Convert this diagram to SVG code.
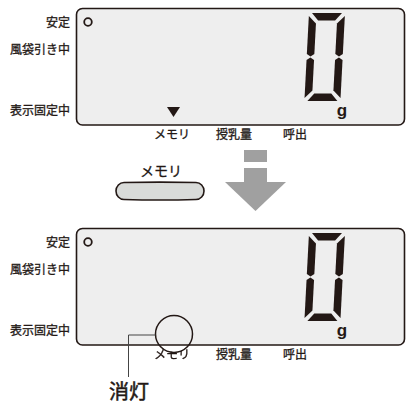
<svg xmlns="http://www.w3.org/2000/svg" width="406" height="404" viewBox="0 0 406 404">
<style>
.lbl{font-family:"Noto Sans CJK JP","Noto Sans",sans-serif;font-size:12px;fill:#231815;stroke:#231815;stroke-width:0.3}
.r{text-anchor:end}
.c{text-anchor:middle}
.box{fill:#eeeeee;stroke:#231815;stroke-width:1.6}
.seg{fill:#231815}
.ind{fill:none;stroke:#231815;stroke-width:1.8}
.g{font-family:"Liberation Sans",Arial,sans-serif;font-weight:bold;font-size:17px;fill:#231815;text-anchor:middle}
</style>
<defs>
<g id="digit0">
<polygon points="3,0 33,0 26.5,7.5 9.5,7.5"/>
<polygon points="0,3 7.5,10.5 7.5,41 3.75,43.5 0,41"/>
<polygon points="36,3 36,41 32.25,43.5 28.5,41 28.5,10.5"/>
<polygon points="0,47 3.75,44.5 7.5,47 7.5,77.5 0,85"/>
<polygon points="36,47 36,85 28.5,77.5 28.5,47 32.25,44.5"/>
<polygon points="3,88 33,88 26.5,80.5 9.5,80.5"/>
</g>
<mask id="hide">
<rect x="0" y="0" width="406" height="404" fill="#fff"/>
<circle cx="174" cy="333" r="19" fill="#000"/>
</mask>
</defs>

<g id="display-before">
<rect class="box" x="76.5" y="8.5" width="328" height="116.5" rx="6"/>
<text class="lbl r" x="70" y="26.5">安定</text>
<text class="lbl r" x="70" y="53.5">風袋引き中</text>
<text class="lbl r" x="70" y="114.5">表示固定中</text>
<circle class="ind" cx="88" cy="22" r="3.8"/>
<polygon class="seg" points="167,107 180,107 173.5,117"/>
<use href="#digit0" class="seg" transform="translate(309,13) skewX(-3)"/>
<text class="g" x="342" y="116">g</text>
<text class="lbl c" x="172" y="138.5">メモリ</text>
<text class="lbl c" x="234" y="138.5">授乳量</text>
<text class="lbl c" x="295" y="138.5">呼出</text>
</g>

<g id="memory-button">
<text class="lbl c" x="161" y="175.5" style="font-size:14px">メモリ</text>
<path d="M124,182.5 Q160,181.8 196,182.5 A8,8.5 0 0 1 196,199.5 Q160,200.5 124,199.5 A8,8.5 0 0 1 124,182.5 Z" fill="#d9dbd9" stroke="#231815" stroke-width="1.6"/>
</g>

<g id="down-arrow" fill="#a0a0a0">
<rect x="244" y="150" width="23" height="12"/>
<rect x="244" y="168" width="23" height="14"/>
<polygon points="225,182 286,182 255.5,211"/>
</g>

<g id="display-after">
<rect class="box" x="76.5" y="228.5" width="328" height="116.5" rx="6"/>
<text class="lbl r" x="70" y="246.5">安定</text>
<text class="lbl r" x="70" y="273.5">風袋引き中</text>
<text class="lbl r" x="70" y="334.5">表示固定中</text>
<circle class="ind" cx="88" cy="242" r="3.8"/>
<use href="#digit0" class="seg" transform="translate(309,233) skewX(-3)"/>
<text class="g" x="342" y="336">g</text>
<text class="lbl c" x="172" y="358.5" mask="url(#hide)">メモリ</text>
<text class="lbl c" x="234" y="358.5">授乳量</text>
<text class="lbl c" x="295" y="358.5">呼出</text>
</g>

<g id="connectors">
<circle cx="174" cy="334" r="18.5" fill="none" stroke="#231815" stroke-width="1.5"/>
<polyline points="155.5,335 128.5,335 128.5,377" fill="none" stroke="#444" stroke-width="1"/>
</g>

<g id="off-label">
<text class="lbl" x="129" y="399" text-anchor="middle" style="font-size:20px;stroke-width:0.5">消灯</text>
</g>
</svg>
